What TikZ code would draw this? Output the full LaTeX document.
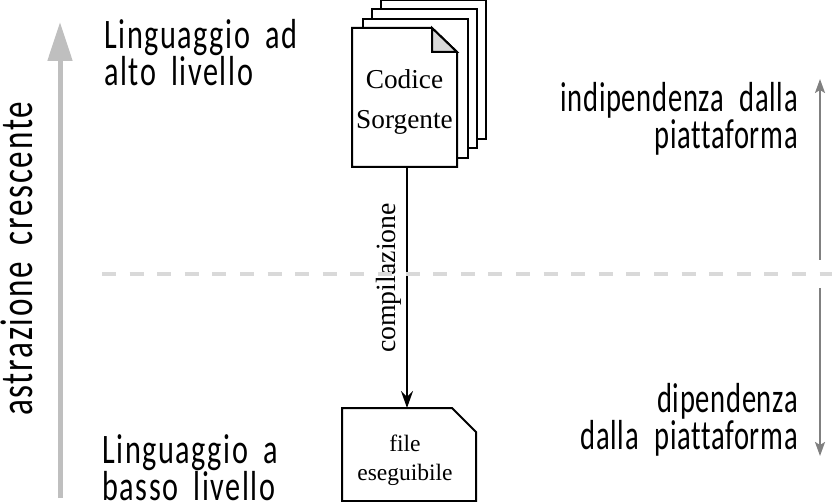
\documentclass[tikz,border=0pt]{standalone}
\usepackage{fontspec}
\setmainfont{Liberation Serif}
\newfontfamily\manofont[FakeStretch=0.72,LetterSpace=3.8,WordSpace=1.8,Ligatures=CommonOff]{Carlito}
\newfontfamily\manostretta[FakeStretch=0.68,LetterSpace=1.6,WordSpace=2.2,Ligatures=CommonOff]{Carlito}
\usepackage{tikz}
\usetikzlibrary{arrows.meta}

\tikzset{
  pagina/.style={draw,line width=2pt,fill=white,minimum width=105pt,minimum height=139pt,inner sep=0pt},
  mano/.style={font=\manofont\fontsize{42}{32}\selectfont,inner sep=0pt,align=left},
  manodx/.style={font=\manostretta\fontsize{42}{32}\selectfont,inner sep=0pt,align=right},
  testo/.style={font=\fontsize{27.3}{40}\selectfont,inner sep=0pt,align=center}
}

\begin{document}
\begin{tikzpicture}[x=1pt,y=-1pt]
\useasboundingbox (0,0) rectangle (832,502);

% fogli dietro
\node [pagina] (p3) at (433.5,70) {};
\node [pagina] (p2) at (424.5,79) {};
\node [pagina] (p1) at (415,88.5) {};
\draw [line width=2pt,fill=white,line join=miter] (352,28) -- (432,28) -- (457,52) -- (457,167) -- (352,167) -- cycle;
\draw [line width=2pt,fill=black!15] (432,28) -- (457,52) -- (432,52) -- cycle;
\node [testo] (src) at (404.5,102) {Codice\\Sorgente};

% eseguibile
\draw [line width=2pt] (342,408) -- (452,408) -- (476,432) -- (476,501) -- (342,501) -- cycle;
\node [font=\fontsize{23.5}{29}\selectfont,inner sep=0pt,align=center] (exe) at (405,460.5) {file\\eseguibile};

\coordinate (a1) at (407,167);
\coordinate (a2) at (407,408);
\draw [line width=2pt,-{Stealth[length=17pt,width=12pt,inset=6pt]}] (a1) -- (a2);
\node [rotate=90,font=\fontsize{27.8}{27}\selectfont,inner sep=0pt] (comp) at (389,278) {compilazione};

% astrazione
\coordinate (s1) at (60,498);
\coordinate (s2) at (60,22);
\draw [line width=5pt,black!25,-{Stealth[length=39pt,width=24pt,inset=0pt]}] (s1) -- (s2);
\node [mano,rotate=90,font=\manofont\fontsize{46}{46}\selectfont] (astr) at (17,259) {astrazione crescente};

\node [mano,anchor=north west] (alto) at (104,19) {Linguaggio ad\\alto livello};
\node [mano,anchor=north west] (basso) at (102,434) {Linguaggio a\\basso livello};
\node [manodx,anchor=north east] (ind) at (798,82) {indipendenza dalla\\piattaforma};
\node [manodx,anchor=north east] (dip) at (798,383) {dipendenza\\dalla piattaforma};

% soglia
\coordinate (d1) at (102,274);
\coordinate (d2) at (832,274);
\draw [line width=4pt,black!15,dash pattern=on 14pt off 13.6pt] (d1) -- (d2);

\coordinate (u1) at (820,260);
\coordinate (u2) at (820,79);
\coordinate (g1) at (820,288);
\coordinate (g2) at (820,456);
\draw [line width=2pt,black!50,-{Stealth[length=14pt,width=10pt,inset=3pt]}] (u1) -- (u2);
\draw [line width=2pt,black!50,-{Stealth[length=14pt,width=10pt,inset=3pt]}] (g1) -- (g2);

\end{tikzpicture}
\end{document}
